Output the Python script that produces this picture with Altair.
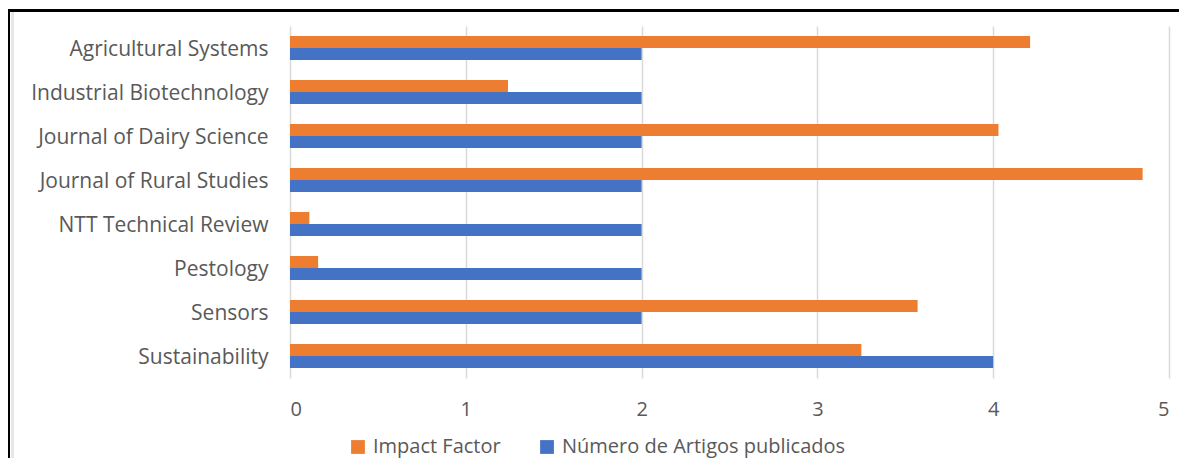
import altair as alt
import pandas as pd

categories = [
    "Agricultural Systems",
    "Industrial Biotechnology",
    "Journal of Dairy Science",
    "Journal of Rural Studies",
    "NTT Technical Review",
    "Pestology",
    "Sensors",
    "Sustainability",
]
impact_factor = [4.21, 1.24, 4.03, 4.85, 0.11, 0.16, 3.57, 3.25]
num_artigos = [2, 2, 2, 2, 2, 2, 2, 4]
series = ["Impact Factor", "Número de Artigos publicados"]
colors = ["#ED7D31", "#4472C4"]
x_ticks = [0, 1, 2, 3, 4, 5]

rows = []
for c, a, b in zip(categories, impact_factor, num_artigos):
    rows.append({"cat": c, "serie": series[0], "v": a})
    rows.append({"cat": c, "serie": series[1], "v": b})
df = pd.DataFrame(rows)

FONT = "Open Sans"
GRAY = "#595959"

bars = alt.Chart(df).mark_bar().encode(
    y=alt.Y("cat:N", sort=categories,
            scale=alt.Scale(paddingInner=0.455, paddingOuter=0.2275),
            axis=alt.Axis(title=None, domain=False, ticks=False, labelPadding=22,
                          labelFont=FONT, labelFontSize=21, labelColor=GRAY, grid=False,
                          labelLimit=0, labelOffset=2)),
    yOffset=alt.YOffset("serie:N", sort=series, scale=alt.Scale(paddingInner=0, paddingOuter=0)),
    x=alt.X("v:Q", scale=alt.Scale(domain=[0, 5], nice=False),
            axis=alt.Axis(title=None, values=x_ticks, domain=False, ticks=False,
                          labelPadding=21, labelFont=FONT, labelFontSize=20,
                          labelColor=GRAY, grid=True, gridColor="#d9d9d9",
                          gridWidth=1.5, format="d")),
    color=alt.Color("serie:N", sort=series,
                    scale=alt.Scale(domain=series, range=colors),
                    legend=alt.Legend(title=None, orient="none", legendX=58, legendY=411,
                                      direction="horizontal", symbolType="square",
                                      symbolSize=190, symbolStrokeWidth=0,
                                      labelFont=FONT, labelFontSize=20, labelColor=GRAY,
                                      columnPadding=36, symbolOffset=0, labelOffset=5,
                                      labelLimit=0)),
)

frame_left = alt.Chart(df).mark_rule(color="black", strokeWidth=2).encode(
    x=alt.value(-281.5), y=alt.value(-16), y2=alt.value(460))
frame_top = alt.Chart(df).mark_rule(color="black", strokeWidth=2).encode(
    x=alt.value(-282), x2=alt.value(900), y=alt.value(-15.5))
inner_line = alt.Chart(df).mark_rule(color="#e6e6e6", strokeWidth=1.5).encode(
    x=alt.value(-277.5), y=alt.value(-14), y2=alt.value(460))

chart = alt.layer(frame_left, frame_top, inner_line, bars).properties(
    width=879, height=352,
    padding={"left": 282, "top": 18, "right": 10, "bottom": 80},
    autosize=alt.AutoSizeParams(type="none"),
    background="white",
).configure_view(stroke=None)

chart.save("out.html", embed_options={"renderer": "svg", "actions": False})
